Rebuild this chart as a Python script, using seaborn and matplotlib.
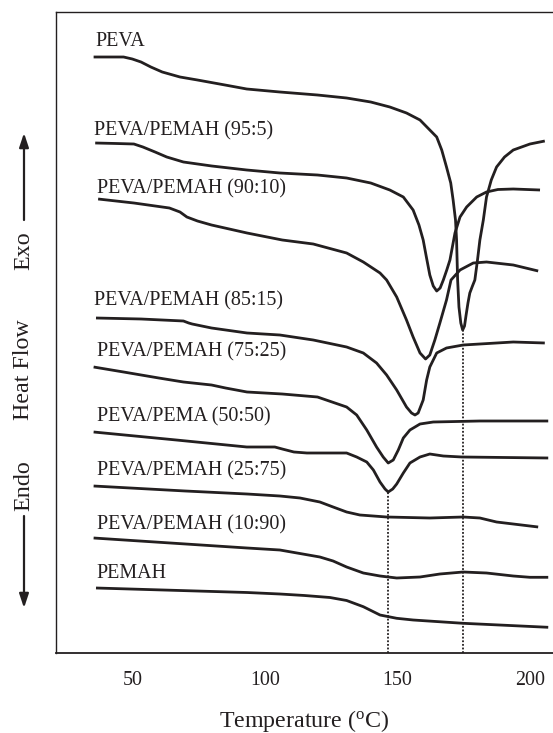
import numpy as np
import pandas as pd
import matplotlib
matplotlib.use("Agg")
import matplotlib.pyplot as plt
from matplotlib.patches import FancyArrowPatch
from matplotlib.ticker import MultipleLocator
import seaborn as sns

# DSC heating scans: temperature (°C) and vertically offset heat flow (a.u.)
peva_t = [35.4, 46.7, 50.0, 53.3, 57.0, 61.3, 68.0, 74.6, 85.0, 93.2, 105.7, 119.9, 130.9,
          140.0, 147.2, 153.5, 158.6, 162.3, 164.9, 166.8, 168.6, 170.2, 171.1, 172.0,
          172.4, 172.6, 172.8, 173.3, 174.0, 174.7, 175.4, 176.0, 176.7, 177.4, 178.4,
          179.3, 180.3, 181.2, 182.5, 183.7, 185.5, 187.5, 190.5, 193.8, 200.1, 205.7]
peva_h = [59.6, 59.6, 59.4, 59.1, 58.6, 58.1, 57.6, 57.3, 56.8, 56.4, 56.1, 55.8, 55.5,
          55.1, 54.6, 54.0, 53.3, 52.3, 51.6, 50.3, 48.6, 47.0, 45.3, 43.3,
          41.3, 39.3, 37.3, 34.6, 33.0, 32.3, 32.7, 33.8, 35.0, 36.0, 36.7,
          37.3, 39.3, 41.3, 43.3, 45.6, 47.3, 48.6, 49.6, 50.3, 50.9, 51.2]

b95_t = [36.0, 44.0, 50.6, 54.0, 58.6, 63.0, 69.3, 80.0, 93.2, 105.7, 119.9, 130.9, 140.0,
         147.2, 152.3, 156.0, 158.2, 159.8, 161.0, 162.3, 163.6, 164.9, 166.2, 167.4,
         168.7, 169.9, 171.8, 173.7, 176.2, 180.0, 183.7, 188.0, 193.8, 203.9]
b95_h = [51.0, 50.95, 50.9, 50.6, 50.1, 49.6, 49.1, 48.7, 48.3, 48.0, 47.8, 47.5, 47.0,
         46.3, 45.6, 44.3, 42.8, 41.3, 39.6, 37.8, 36.7, 36.2, 36.5, 37.3,
         38.3, 39.3, 42.0, 43.6, 44.6, 45.6, 46.1, 46.35, 46.4, 46.3]

b90_t = [37.1, 50.6, 64.0, 68.0, 70.6, 74.6, 79.9, 93.3, 106.6, 118.3, 130.9, 137.2, 143.5,
         146.0, 149.8, 153.5, 156.0, 158.6, 160.7, 162.3, 164.2, 166.1, 168.6, 170.3,
         173.7, 178.7, 183.7, 193.8, 203.2]
b90_h = [45.4, 45.0, 44.5, 44.1, 43.6, 43.2, 42.8, 42.0, 41.3, 40.9, 40.0, 39.1, 38.0,
         37.3, 35.6, 33.3, 31.6, 30.0, 29.4, 29.8, 31.3, 33.0, 35.3, 37.3,
         38.3, 39.0, 39.1, 38.8, 38.2]

b85_t = [36.3, 53.3, 69.3, 71.3, 72.6, 79.9, 93.3, 105.7, 118.3, 130.9, 137.2, 142.2, 146.0,
         149.8, 153.5, 155.4, 156.7, 157.9, 159.8, 161.1, 162.3, 164.9, 168.6, 174.9,
         193.8, 205.7]
b85_h = [33.5, 33.4, 33.2, 33.0, 32.9, 32.5, 32.0, 31.8, 31.3, 30.6, 30.0, 29.0, 27.8,
         26.3, 24.6, 24.0, 23.8, 24.0, 25.3, 27.3, 28.6, 30.0, 30.5, 30.8,
         31.1, 31.0]

b75_t = [35.4, 46.7, 60.0, 69.3, 79.9, 85.2, 93.3, 106.6, 119.9, 130.9, 134.7, 138.5, 142.2,
         144.7, 146.6, 148.5, 150.4, 152.3, 154.8, 158.6, 163.6, 181.2, 207.0]
b75_h = [28.6, 28.1, 27.5, 27.1, 26.8, 26.5, 26.1, 25.9, 25.6, 24.6, 23.8, 22.3, 20.6,
         19.6, 19.0, 19.3, 20.3, 21.5, 22.3, 22.9, 23.1, 23.2, 23.2]

b50_t = [35.4, 66.6, 93.2, 103.8, 106.6, 111.0, 115.9, 130.9, 134.7, 138.5, 141.0, 143.5,
         145.4, 146.6, 148.3, 149.8, 152.3, 154.8, 158.6, 162.3, 167.4, 174.4, 207.0]
b50_h = [22.1, 21.3, 20.6, 20.6, 20.4, 20.1, 20.0, 20.0, 19.6, 19.1, 18.3, 17.1,
         16.4, 16.1, 16.4, 16.9, 18.0, 19.0, 19.6, 19.9, 19.7, 19.6, 19.5]

b25_t = [35.4, 70.0, 93.3, 105.7, 113.3, 120.8, 125.8, 130.9, 135.9, 146.0, 162.3, 174.9,
         181.2, 187.5, 203.2]
b25_h = [16.7, 16.2, 15.9, 15.7, 15.5, 15.1, 14.6, 14.1, 13.8, 13.6, 13.5, 13.6,
         13.5, 13.1, 12.6]

b10_t = [35.4, 93.3, 105.7, 120.8, 125.8, 130.9, 137.2, 143.5, 149.8, 158.6, 166.1, 174.9,
         183.7, 193.8, 200.1, 207.0]
b10_h = [11.5, 10.5, 10.3, 9.6, 9.2, 8.6, 8.0, 7.7, 7.5, 7.6, 7.9, 8.1,
         8.0, 7.7, 7.57, 7.57]

pemah_t = [36.3, 93.3, 105.7, 115.0, 124.6, 130.9, 137.2, 143.5, 149.8, 156.0, 174.9, 207.0]
pemah_h = [6.5, 6.05, 5.9, 5.75, 5.55, 5.25, 4.63, 3.8, 3.47, 3.3, 2.97, 2.57]

series_names = ["PEVA", "PEVA/PEMAH (95:5)", "PEVA/PEMAH (90:10)", "PEVA/PEMAH (85:15)",
                "PEVA/PEMAH (75:25)", "PEVA/PEMA (50:50)", "PEVA/PEMAH (25:75)",
                "PEVA/PEMAH (10:90)", "PEMAH"]
series_t = [peva_t, b95_t, b90_t, b85_t, b75_t, b50_t, b25_t, b10_t, pemah_t]
series_h = [peva_h, b95_h, b90_h, b85_h, b75_h, b50_h, b25_h, b10_h, pemah_h]

# label anchors (left edge temperature, vertical centre)
label_t = [35.9, 35.4, 36.7, 35.4, 36.7, 36.7, 36.7, 36.7, 36.3]
label_h = [61.1, 52.2, 46.4, 35.2, 30.1, 23.6, 18.2, 12.8, 8.0]

x_major = [50, 100, 150, 200]

sns.set_style("white")
plt.rcParams["font.family"] = ["Liberation Serif", "DejaVu Serif"]
plt.rcParams["mathtext.fontset"] = "custom"
plt.rcParams["mathtext.rm"] = "Liberation Serif"
plt.rcParams["mathtext.it"] = "Liberation Serif:italic"

ink = "#231f20"
W, H = 553, 733
fig = plt.figure(figsize=(W / 100, H / 100), dpi=100)
left_px, right_px, top_px, bottom_px = 56, 553, 12.3, 653
ax = fig.add_axes([left_px / W, (H - bottom_px) / H,
                   (right_px - left_px) / W, (bottom_px - top_px) / H])

frames = []
for name, t, h in zip(series_names, series_t, series_h):
    frames.append(pd.DataFrame({"T": t, "HF": h, "sample": name}))
df = pd.concat(frames, ignore_index=True)

sns.lineplot(data=df, x="T", y="HF", units="sample", estimator=None, sort=False,
             color=ink, lw=2.0, ax=ax, solid_joinstyle="round", solid_capstyle="butt")

for name, lt, lh in zip(series_names, label_t, label_h):
    ax.text(lt, lh, name, ha="left", va="center", fontsize=14.4, color=ink)

# melting-peak markers for PEVA and the 50:50 blend
for t, h in [(peva_t, peva_h), (b50_t, b50_h)]:
    i = int(np.argmin(h))
    ax.vlines(t[i], 0, h[i], colors=ink, linestyles=(0, (1, 1)), lw=1.3)

ax.set_xlim(21.2, 208.8)
ax.set_ylim(0, 64.07)
ax.set_xticks(x_major)
ax.xaxis.set_minor_locator(MultipleLocator(10))
ax.set_yticks([])
ax.tick_params(axis="x", which="major", direction="in", length=9.5, width=1.1,
               colors=ink, labelsize=14.4, pad=13)
ax.tick_params(axis="x", which="minor", direction="in", length=5, width=1.1, colors=ink)
for side in ["left", "bottom", "top"]:
    ax.spines[side].set_color(ink)
ax.spines["left"].set_linewidth(1.0)
ax.spines["bottom"].set_linewidth(1.3)
ax.spines["top"].set_linewidth(1.0)
ax.spines["right"].set_visible(False)
ax.set_xlabel(r"Temperature ($^{\rm o}$C)", fontsize=17.3, color=ink, labelpad=13)
ax.set_ylabel("")

# exo / endo direction indicator on the left
fx = 24 / W


def fy(p):
    return (H - p) / H


fig.text(fx, fy(251), "Exo", rotation=90, ha="center", va="center", fontsize=17.3, color=ink)
fig.text(fx, fy(370), "Heat Flow", rotation=90, ha="center", va="center", fontsize=17.3, color=ink)
fig.text(fx, fy(486), "Endo", rotation=90, ha="center", va="center", fontsize=17.3, color=ink)
for start, end in [(220, 133), (516, 608)]:
    fig.add_artist(FancyArrowPatch((fx, fy(start)), (fx, fy(end)), transform=fig.transFigure,
                                   arrowstyle="-|>,head_length=0.6,head_width=0.2",
                                   mutation_scale=14, color=ink, lw=1.6,
                                   shrinkA=0, shrinkB=0))

fig.savefig("out.png", dpi=100, facecolor="white")
